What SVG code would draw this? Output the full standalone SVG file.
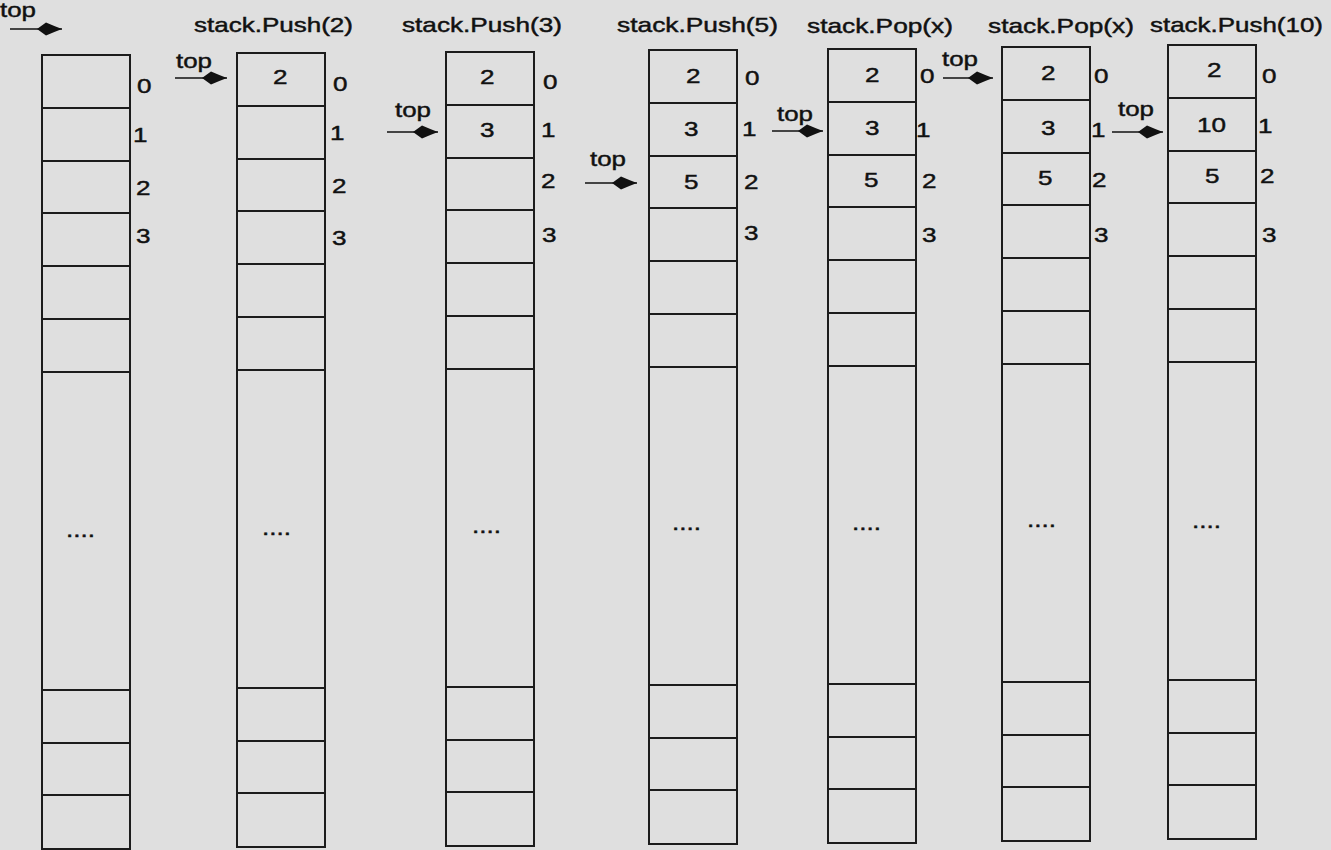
<svg xmlns="http://www.w3.org/2000/svg" width="1331" height="850" viewBox="0 0 1331 850">
<defs>
<style>
.bg{fill:#dfdfdf}
.cell{fill:none;stroke:#1c1c1c;stroke-width:2}
.t{font-family:"Liberation Sans",Arial,sans-serif;font-size:21px;fill:#111;stroke:#111;stroke-width:0.45}
.ptr{stroke:#111;stroke-width:1.6;fill:none}
</style>
<marker id="head" viewBox="-26 -8 27 16" markerWidth="27" markerHeight="16" refX="0" refY="0" orient="auto" markerUnits="userSpaceOnUse">
<path d="M0,0 Q-8,-3 -16,-6.5 L-25,0 L-16,6.5 Q-8,3 0,0 Z" fill="#111"/>
</marker>
<g id="stackShape">
<rect class="cell" x="0" y="0" width="88" height="794"/>
<path class="cell" d="M0,53H88M0,106H88M0,158H88M0,211H88M0,264H88M0,317H88M0,635H88M0,688H88M0,740H88"/>
</g>
</defs>
<rect class="bg" x="0" y="0" width="1331" height="850"/>

<g id="connectors">
<line class="ptr" x1="10" y1="29" x2="62" y2="29" marker-end="url(#head)"/>
<line class="ptr" x1="175" y1="78" x2="227" y2="78" marker-end="url(#head)"/>
<line class="ptr" x1="387" y1="132" x2="438" y2="132" marker-end="url(#head)"/>
<line class="ptr" x1="585" y1="183" x2="637" y2="183" marker-end="url(#head)"/>
<line class="ptr" x1="772" y1="131" x2="823" y2="131" marker-end="url(#head)"/>
<line class="ptr" x1="943" y1="78" x2="993" y2="78" marker-end="url(#head)"/>
<line class="ptr" x1="1112" y1="132" x2="1163" y2="132" marker-end="url(#head)"/>
</g>

<g id="stack0">
<use href="#stackShape" x="42" y="55"/>
<text class="t" x="0" y="17" textLength="36" lengthAdjust="spacingAndGlyphs">top</text>
<text class="t" x="137" y="93" textLength="14.5" lengthAdjust="spacingAndGlyphs">0</text>
<text class="t" x="133" y="142" textLength="14.5" lengthAdjust="spacingAndGlyphs">1</text>
<text class="t" x="136" y="195" textLength="14.5" lengthAdjust="spacingAndGlyphs">2</text>
<text class="t" x="136" y="243" textLength="14.5" lengthAdjust="spacingAndGlyphs">3</text>
<text class="t" x="66" y="537" textLength="29" lengthAdjust="spacingAndGlyphs">....</text>
</g>

<g id="stack1">
<use href="#stackShape" x="237" y="53"/>
<text class="t" x="194" y="32" textLength="159" lengthAdjust="spacingAndGlyphs">stack.Push(2)</text>
<text class="t" x="176" y="68" textLength="36" lengthAdjust="spacingAndGlyphs">top</text>
<text class="t" x="273" y="84" textLength="14.5" lengthAdjust="spacingAndGlyphs">2</text>
<text class="t" x="333" y="91" textLength="14.5" lengthAdjust="spacingAndGlyphs">0</text>
<text class="t" x="330" y="140" textLength="14.5" lengthAdjust="spacingAndGlyphs">1</text>
<text class="t" x="332" y="193" textLength="14.5" lengthAdjust="spacingAndGlyphs">2</text>
<text class="t" x="332" y="245" textLength="14.5" lengthAdjust="spacingAndGlyphs">3</text>
<text class="t" x="262" y="535" textLength="29" lengthAdjust="spacingAndGlyphs">....</text>
</g>

<g id="stack2">
<use href="#stackShape" x="446" y="52"/>
<text class="t" x="402" y="32" textLength="160" lengthAdjust="spacingAndGlyphs">stack.Push(3)</text>
<text class="t" x="395" y="117" textLength="36" lengthAdjust="spacingAndGlyphs">top</text>
<text class="t" x="480" y="84" textLength="14.5" lengthAdjust="spacingAndGlyphs">2</text>
<text class="t" x="480" y="137" textLength="14.5" lengthAdjust="spacingAndGlyphs">3</text>
<text class="t" x="543" y="89" textLength="14.5" lengthAdjust="spacingAndGlyphs">0</text>
<text class="t" x="541" y="137" textLength="14.5" lengthAdjust="spacingAndGlyphs">1</text>
<text class="t" x="541" y="188" textLength="14.5" lengthAdjust="spacingAndGlyphs">2</text>
<text class="t" x="542" y="242" textLength="14.5" lengthAdjust="spacingAndGlyphs">3</text>
<text class="t" x="472" y="533" textLength="29" lengthAdjust="spacingAndGlyphs">....</text>
</g>

<g id="stack3">
<use href="#stackShape" x="649" y="50"/>
<text class="t" x="617" y="32" textLength="161" lengthAdjust="spacingAndGlyphs">stack.Push(5)</text>
<text class="t" x="590" y="166" textLength="36" lengthAdjust="spacingAndGlyphs">top</text>
<text class="t" x="686" y="83" textLength="14.5" lengthAdjust="spacingAndGlyphs">2</text>
<text class="t" x="684" y="136" textLength="14.5" lengthAdjust="spacingAndGlyphs">3</text>
<text class="t" x="684" y="189" textLength="14.5" lengthAdjust="spacingAndGlyphs">5</text>
<text class="t" x="745" y="85" textLength="14.5" lengthAdjust="spacingAndGlyphs">0</text>
<text class="t" x="742" y="136" textLength="14.5" lengthAdjust="spacingAndGlyphs">1</text>
<text class="t" x="744" y="189" textLength="14.5" lengthAdjust="spacingAndGlyphs">2</text>
<text class="t" x="744" y="240" textLength="14.5" lengthAdjust="spacingAndGlyphs">3</text>
<text class="t" x="672" y="530" textLength="29" lengthAdjust="spacingAndGlyphs">....</text>
</g>

<g id="stack4">
<use href="#stackShape" x="828" y="49"/>
<text class="t" x="807" y="33" textLength="146" lengthAdjust="spacingAndGlyphs">stack.Pop(x)</text>
<text class="t" x="777" y="121" textLength="36" lengthAdjust="spacingAndGlyphs">top</text>
<text class="t" x="865" y="82" textLength="14.5" lengthAdjust="spacingAndGlyphs">2</text>
<text class="t" x="865" y="135" textLength="14.5" lengthAdjust="spacingAndGlyphs">3</text>
<text class="t" x="864" y="187" textLength="14.5" lengthAdjust="spacingAndGlyphs">5</text>
<text class="t" x="920" y="83" textLength="14.5" lengthAdjust="spacingAndGlyphs">0</text>
<text class="t" x="916" y="137" textLength="14.5" lengthAdjust="spacingAndGlyphs">1</text>
<text class="t" x="922" y="188" textLength="14.5" lengthAdjust="spacingAndGlyphs">2</text>
<text class="t" x="922" y="242" textLength="14.5" lengthAdjust="spacingAndGlyphs">3</text>
<text class="t" x="852" y="530" textLength="29" lengthAdjust="spacingAndGlyphs">....</text>
</g>

<g id="stack5">
<use href="#stackShape" x="1002" y="47"/>
<text class="t" x="988" y="33" textLength="146" lengthAdjust="spacingAndGlyphs">stack.Pop(x)</text>
<text class="t" x="942" y="66" textLength="36" lengthAdjust="spacingAndGlyphs">top</text>
<text class="t" x="1041" y="80" textLength="14.5" lengthAdjust="spacingAndGlyphs">2</text>
<text class="t" x="1041" y="135" textLength="14.5" lengthAdjust="spacingAndGlyphs">3</text>
<text class="t" x="1038" y="185" textLength="14.5" lengthAdjust="spacingAndGlyphs">5</text>
<text class="t" x="1094" y="83" textLength="14.5" lengthAdjust="spacingAndGlyphs">0</text>
<text class="t" x="1091" y="137" textLength="14.5" lengthAdjust="spacingAndGlyphs">1</text>
<text class="t" x="1092" y="187" textLength="14.5" lengthAdjust="spacingAndGlyphs">2</text>
<text class="t" x="1094" y="242" textLength="14.5" lengthAdjust="spacingAndGlyphs">3</text>
<text class="t" x="1027" y="527" textLength="29" lengthAdjust="spacingAndGlyphs">....</text>
</g>

<g id="stack6">
<use href="#stackShape" x="1168" y="45"/>
<text class="t" x="1150" y="32" textLength="173" lengthAdjust="spacingAndGlyphs">stack.Push(10)</text>
<text class="t" x="1118" y="116" textLength="36" lengthAdjust="spacingAndGlyphs">top</text>
<text class="t" x="1207" y="77" textLength="14.5" lengthAdjust="spacingAndGlyphs">2</text>
<text class="t" x="1197" y="132" textLength="29" lengthAdjust="spacingAndGlyphs">10</text>
<text class="t" x="1205" y="183" textLength="14.5" lengthAdjust="spacingAndGlyphs">5</text>
<text class="t" x="1262" y="83" textLength="14.5" lengthAdjust="spacingAndGlyphs">0</text>
<text class="t" x="1258" y="133" textLength="14.5" lengthAdjust="spacingAndGlyphs">1</text>
<text class="t" x="1260" y="183" textLength="14.5" lengthAdjust="spacingAndGlyphs">2</text>
<text class="t" x="1262" y="242" textLength="14.5" lengthAdjust="spacingAndGlyphs">3</text>
<text class="t" x="1192" y="528" textLength="29" lengthAdjust="spacingAndGlyphs">....</text>
</g>
</svg>
